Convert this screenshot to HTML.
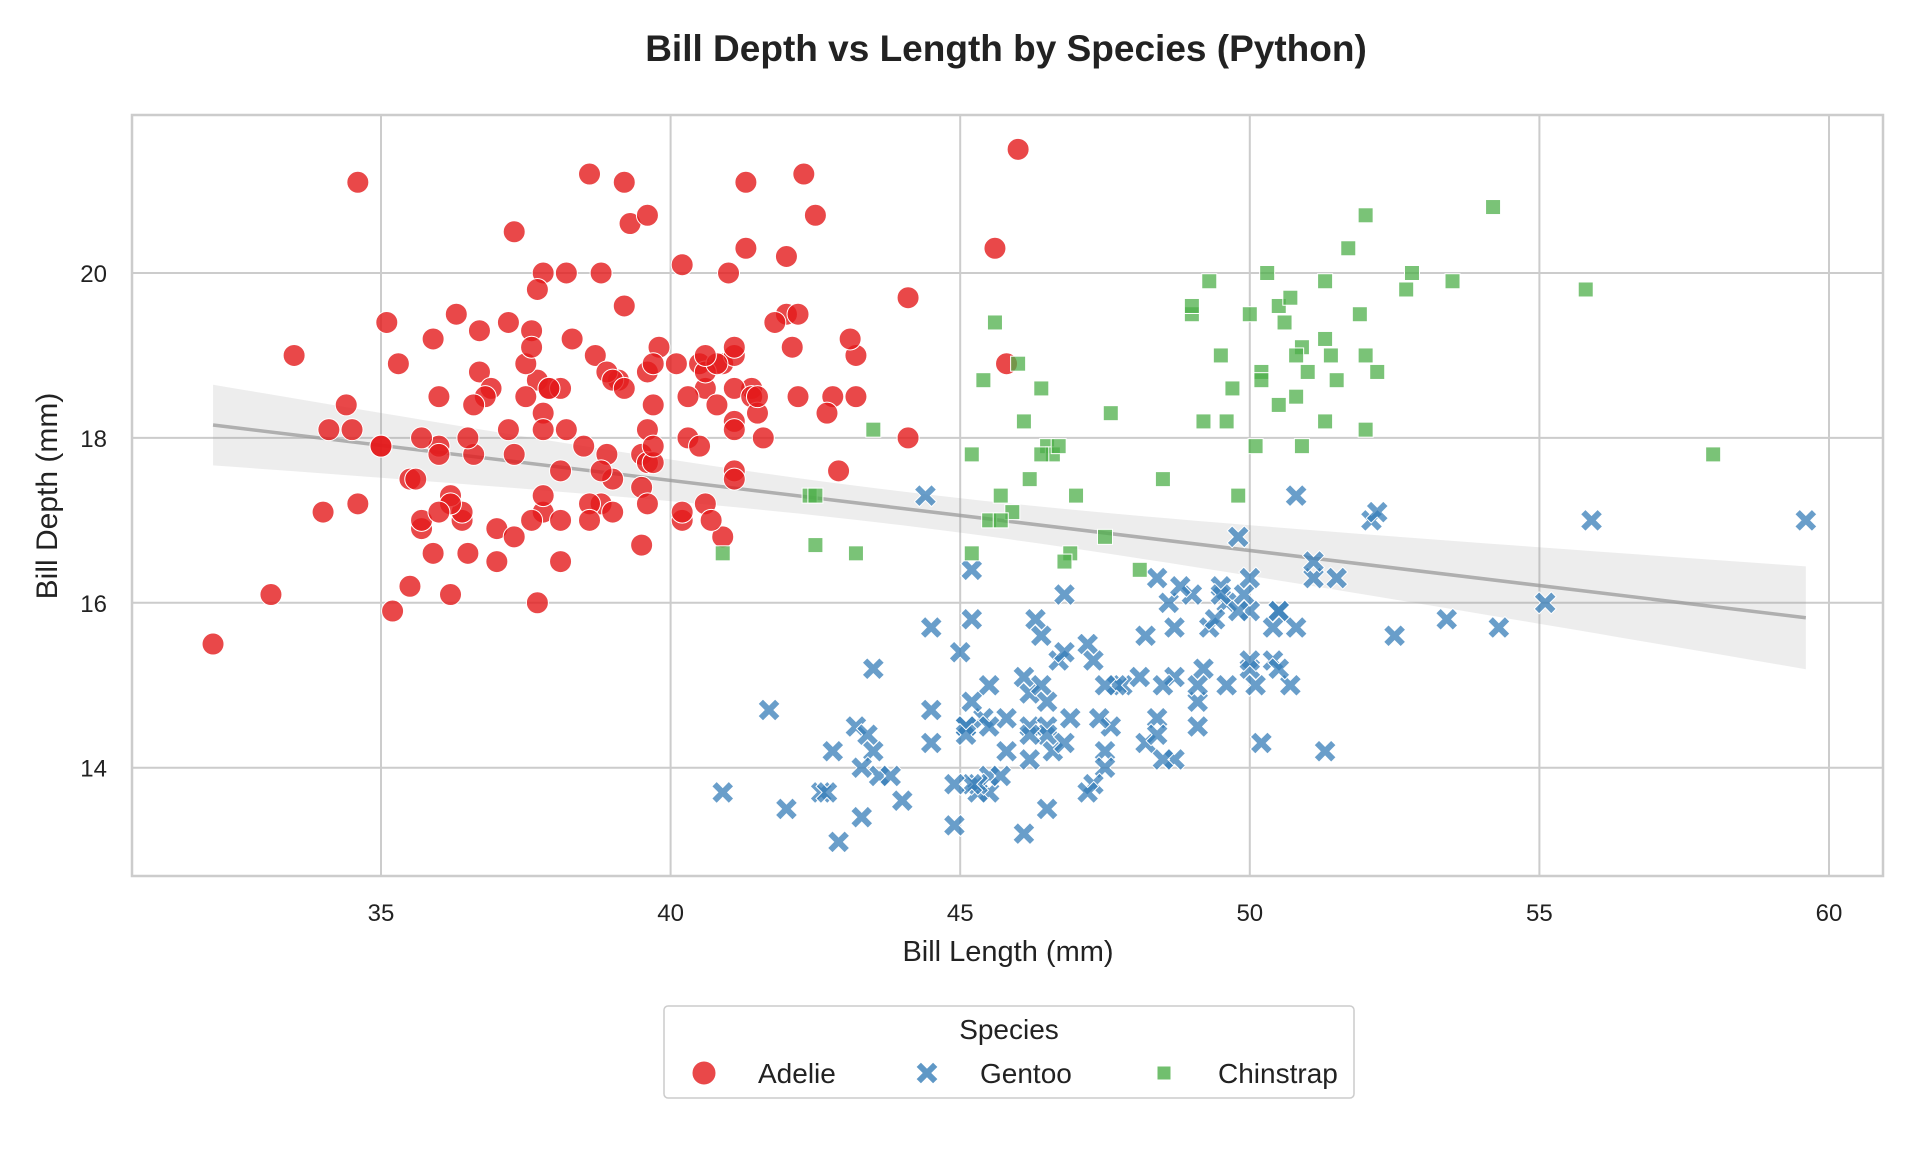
<!DOCTYPE html>
<html><head><meta charset="utf-8"><style>
body{margin:0;background:#fff;}
svg{display:block;font-family:"Liberation Sans",Arial,sans-serif;}
</style></head><body>
<svg id="chart" width="1920" height="1152" xmlns="http://www.w3.org/2000/svg">
<rect width="1920" height="1152" fill="#fff"/>
<text x="1006" y="61" text-anchor="middle" font-size="37" font-weight="bold" fill="#222">Bill Depth vs Length by Species (Python)</text>
<g id="grid"></g>
<g id="band"></g>
<g id="pts"></g>
<rect x="132" y="115" width="1751" height="761" fill="none" stroke="#cccccc" stroke-width="2.5"/>
<g id="ticks"></g>
<text x="1008" y="961" text-anchor="middle" font-size="29" fill="#222">Bill Length (mm)</text>
<text transform="translate(57,496) rotate(-90)" text-anchor="middle" font-size="30" fill="#222">Bill Depth (mm)</text>
<g>
<rect x="664" y="1006" width="690" height="92" rx="4" fill="#fff" stroke="#cccccc" stroke-width="1.5"/>
<text x="1009" y="1039" text-anchor="middle" font-size="28" fill="#222">Species</text>
<g><circle cx="704" cy="1073" r="12" fill="#e41a1c" fill-opacity="0.8" stroke="#fff"/><text x="758" y="1083" font-size="28" fill="#222">Adelie</text></g>
<g><path id="lgx" fill="#377eb8" fill-opacity="0.8" stroke="#fff"/><text x="980" y="1083" font-size="28" fill="#222">Gentoo</text></g>
<g><rect x="1157" y="1066" width="14" height="14" fill="#4daf4a" fill-opacity="0.8" stroke="#fff"/><text x="1218" y="1083" font-size="28" fill="#222">Chinstrap</text></g>
</g>
</svg>
<script>
const adelieLen=[39.1,39.5,40.3,36.7,39.3,38.9,39.2,34.1,42,37.8,37.8,41.1,38.6,34.6,36.6,38.7,42.5,34.4,46,37.8,37.7,35.9,38.2,38.8,35.3,40.6,40.5,37.9,40.5,39.5,37.2,39.5,40.9,36.4,39.2,38.8,42.2,37.6,39.8,36.5,40.8,36,44.1,37,39.6,41.1,37.5,36,42.3,39.6,40.1,35,42,34.5,41.4,39,40.6,36.5,37.6,35.7,41.3,37.6,41.1,36.4,41.6,35.5,41.1,35.9,41.8,33.5,39.7,39.6,45.8,35.5,42.8,40.9,37.2,36.2,42.1,34.6,42.9,36.7,35.1,37.3,41.3,36.3,36.9,38.3,38.9,35.7,41.1,34,39.6,36.2,40.8,38.1,40.3,33.1,43.2,35,41,37.7,37.8,37.9,39.7,38.6,38.2,38.1,43.2,38.1,45.6,39.7,42.2,39.6,42.7,38.6,37.3,35.7,41.1,36.2,37.7,40.2,41.4,35.2,40.6,38.8,41.5,39,44.1,38.5,43.1,36.8,37.5,38.1,41.1,35.6,40.2,37,39.7,40.2,40.6,32.1,40.7,37.3,39,39.2,36.6,36,37.8,36,41.5];
const adelieDep=[18.7,17.4,18,19.3,20.6,17.8,19.6,18.1,20.2,17.1,17.3,17.6,21.2,21.1,17.8,19,20.7,18.4,21.5,18.3,18.7,19.2,18.1,17.2,18.9,18.6,17.9,18.6,18.9,16.7,18.1,17.8,18.9,17,21.1,20,18.5,19.3,19.1,18,18.4,18.5,19.7,16.9,18.8,19,18.9,17.9,21.2,17.7,18.9,17.9,19.5,18.1,18.6,17.5,18.8,16.6,19.1,16.9,21.1,17,18.2,17.1,18,16.2,19.1,16.6,19.4,19,18.4,17.2,18.9,17.5,18.5,16.8,19.4,16.1,19.1,17.2,17.6,18.8,19.4,17.8,20.3,19.5,18.6,19.2,18.8,18,18.1,17.1,18.1,17.3,18.9,18.6,18.5,16.1,18.5,17.9,20,16,20,18.6,18.9,17.2,20,17,19,16.5,20.3,17.7,19.5,20.7,18.3,17,20.5,17,18.6,17.2,19.8,17,18.5,15.9,19,17.6,18.3,17.1,18,17.9,19.2,18.5,18.5,17.6,17.5,17.5,20.1,16.5,17.9,17.1,17.2,15.5,17,16.8,18.7,18.6,18.4,17.8,18.1,17.1,18.5];
const gentooLen=[46.1,50,48.7,50,47.6,46.5,45.4,46.7,43.3,46.8,40.9,49,45.5,48.4,45.8,49.3,42,49.2,46.2,48.7,50.2,45.1,46.5,46.3,42.9,46.1,44.5,47.8,48.2,50,47.3,42.8,45.1,59.6,49.1,48.4,42.6,44.4,44,48.7,42.7,49.6,45.3,49.6,50.5,43.6,45.5,50.5,44.9,45.2,46.6,48.5,45.1,50.1,46.5,45,43.8,45.5,43.2,50.4,45.3,46.2,45.7,54.3,45.8,49.8,46.2,49.5,43.5,50.7,47.7,46.4,48.2,46.5,46.4,48.6,47.5,51.1,45.2,45.2,49.1,52.5,47.4,50,44.9,50.8,43.4,51.3,47.5,52.1,47.5,52.2,45.5,49.5,44.5,50.8,49.4,46.9,48.4,51.1,48.5,55.9,47.2,49.1,47.3,46.8,41.7,53.4,43.3,48.1,50.5,49.8,43.5,51.5,46.2,55.1,44.5,48.8,47.2,46.8,50.4,45.2,49.9];
const gentooDep=[13.2,16.3,14.1,15.2,14.5,13.5,14.6,15.3,13.4,15.4,13.7,16.1,13.7,14.6,14.6,15.7,13.5,15.2,14.5,15.1,14.3,14.5,14.5,15.8,13.1,15.1,14.3,15,14.3,15.3,15.3,14.2,14.5,17,14.8,16.3,13.7,17.3,13.6,15.7,13.7,16,13.7,15,15.9,13.9,13.9,15.9,13.3,15.8,14.2,14.1,14.4,15,14.4,15.4,13.9,15,14.5,15.3,13.8,14.9,13.9,15.7,14.2,16.8,14.4,16.2,14.2,15,15,15.6,15.6,14.8,15,16,14.2,16.3,13.8,16.4,14.5,15.6,14.6,15.9,13.8,17.3,14.4,14.2,14,17,15,17.1,14.5,16.1,14.7,15.7,15.8,14.6,14.4,16.5,15,17,15.5,15,13.8,16.1,14.7,15.8,14,15.1,15.2,15.9,15.2,16.3,14.1,16,15.7,16.2,13.7,14.3,15.7,14.8,16.1];
const chinLen=[46.5,50,51.3,45.4,52.7,45.2,46.1,51.3,46,51.3,46.6,51.7,47,52,45.9,50.5,50.3,58,46.4,49.2,42.4,48.5,43.2,50.6,46.7,52,50.5,49.5,46.4,52.8,40.9,54.2,42.5,51,49.7,47.5,47.6,52,46.9,53.5,49,46.2,50.9,45.5,50.9,50.8,50.1,49,51.5,49.8,48.1,51.4,45.7,50.7,42.5,52.2,45.2,49.3,50.2,45.6,51.9,46.8,45.7,55.8,43.5,49.6,50.8,50.2];
const chinDep=[17.9,19.5,19.2,18.7,19.8,17.8,18.2,18.2,18.9,19.9,17.8,20.3,17.3,18.1,17.1,19.6,20,17.8,18.6,18.2,17.3,17.5,16.6,19.4,17.9,19,18.4,19,17.8,20,16.6,20.8,16.7,18.8,18.6,16.8,18.3,20.7,16.6,19.9,19.5,17.5,19.1,17,17.9,18.5,17.9,19.6,18.7,17.3,16.4,19,17.3,19.7,17.3,18.8,16.6,19.9,18.8,19.4,19.5,16.5,17,19.8,18.1,18.2,19,18.7];
const xTicks=[35,40,45,50,55,60];
const yTicks=[14,16,18,20];

const NS="http://www.w3.org/2000/svg";
const X=v=>381+(v-35)*57.92;
const Y=v=>273-(v-20)*82.45;
function mk(t,a,p){const e=document.createElementNS(NS,t);for(const k in a)e.setAttribute(k,a[k]);p.appendChild(e);return e;}
const grid=document.getElementById('grid'),ticks=document.getElementById('ticks'),pts=document.getElementById('pts'),band=document.getElementById('band');
xTicks.forEach(t=>{
  const l=mk('line',{x1:X(t),x2:X(t),y1:115,y2:876,stroke:'#cccccc','stroke-width':2},grid);
  
  
  const tx=mk('text',{x:X(t),y:921,'text-anchor':'middle','font-size':24,fill:'#222'},ticks);
  tx.textContent=t;
  
  
});
yTicks.forEach(t=>{
  const l=mk('line',{x1:132,x2:1883,y1:Y(t),y2:Y(t),stroke:'#cccccc','stroke-width':2},grid);
  
  
  const tx=mk('text',{x:107,y:Y(t)+9,'text-anchor':'end','font-size':24,fill:'#222'},ticks);
  tx.textContent=t;
  
  
});
const allX=adelieLen.concat(gentooLen,chinLen),allY=adelieDep.concat(gentooDep,chinDep);
const n=allX.length,mx=allX.reduce((a,b)=>a+b)/n,my=allY.reduce((a,b)=>a+b)/n;
let sxx=0,sxy=0;for(let i=0;i<n;i++){sxx+=(allX[i]-mx)**2;sxy+=(allX[i]-mx)*(allY[i]-my);}
const b=sxy/sxx,a=my-b*mx;let sse=0;for(let i=0;i<n;i++)sse+=(allY[i]-a-b*allX[i])**2;
const s=Math.sqrt(sse/(n-2));
const x0=Math.min(...allX),x1=Math.max(...allX);
let up=[],lo=[];
for(let k=0;k<=60;k++){const x=x0+(x1-x0)*k/60,yh=a+b*x,se=1.97*s*Math.sqrt(1/n+(x-mx)**2/sxx);up.push(X(x)+','+Y(yh+se));lo.unshift(X(x)+','+Y(yh-se));}
const poly=mk('polygon',{points:up.concat(lo).join(' '),fill:'#999','fill-opacity':0.18},band);


const rl=mk('line',{x1:X(x0),y1:Y(a+b*x0),x2:X(x1),y2:Y(a+b*x1),stroke:'#999','stroke-opacity':0.75,'stroke-width':3.5},band);


function xpath(cx,cy,r){const w=r*0.32;const p=[[-r,-r+w*1.4],[-r+w*1.4,-r],[0,-w*1.4],[r-w*1.4,-r],[r,-r+w*1.4],[w*1.4,0],[r,r-w*1.4],[r-w*1.4,r],[0,w*1.4],[-r+w*1.4,r],[-r,r-w*1.4],[-w*1.4,0]];return 'M'+p.map(q=>(cx+q[0])+','+(cy+q[1])).join('L')+'Z';}
document.getElementById('lgx').setAttribute('d',xpath(927,1073,11));
adelieLen.forEach((v,i)=>{
  const c=mk('circle',{cx:X(v),cy:Y(adelieDep[i]),r:11,fill:'#e41a1c','fill-opacity':0.8,stroke:'#fff','stroke-width':1},pts);
  
  
});
gentooLen.forEach((v,i)=>{
  const c=mk('path',{d:xpath(X(v),Y(gentooDep[i]),11),fill:'#377eb8','fill-opacity':0.75,stroke:'#fff','stroke-width':1},pts);
  
  
});
chinLen.forEach((v,i)=>{
  const c=mk('rect',{x:X(v)-7.5,y:Y(chinDep[i])-7.5,width:15,height:15,fill:'#4daf4a','fill-opacity':0.75,stroke:'#fff','stroke-width':1},pts);
  
  
});
</script>
</body></html>
